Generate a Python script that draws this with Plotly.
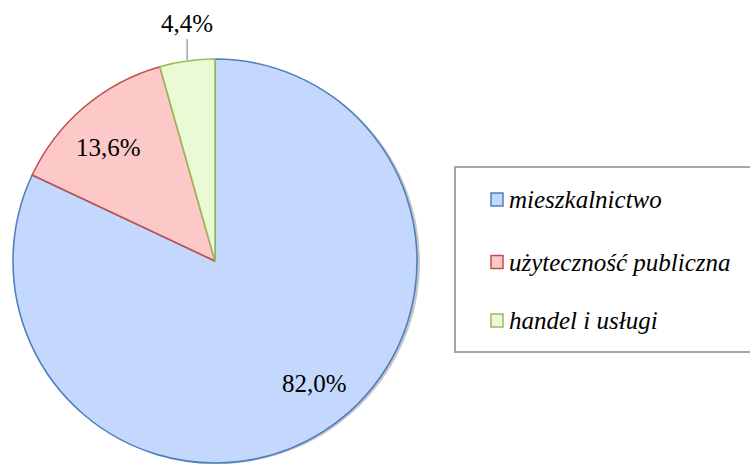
import math
import plotly.graph_objects as go

categories = ["mieszkalnictwo", "użyteczność publiczna", "handel i usługi"]
shares = [82.0, 13.6, 4.4]
label_texts = ["82,0%", "13,6%", "4,4%"]
fill_colors = ["#c3d8fc", "#fcc8c8", "#eafad4"]
line_colors = ["#4f81bd", "#c0504d", "#9bbb59"]

W, H = 750, 464
cx, cy, R = 215, 261, 202  # pie center / radius in px

def dom(cx, cy, R):
    y0 = max(0.0, (H - (cy + R)) / H)
    return dict(x=[(cx - R) / W, (cx + R) / W], y=[y0, (H - (cy - R)) / H])

fig = go.Figure()

# soft drop shadow
fig.add_trace(go.Pie(
    values=[1], labels=["s"], sort=False, domain=dom(cx + 3, cy + 1, R),
    marker=dict(colors=["rgba(0,0,0,0.22)"], line=dict(width=0)),
    textinfo="none", hoverinfo="skip", showlegend=False,
))

fig.add_trace(go.Pie(
    labels=categories, values=shares, sort=False, direction="clockwise", rotation=0,
    domain=dom(cx, cy, R),
    marker=dict(colors=fill_colors, line=dict(color=line_colors, width=1.6)),
    textinfo="none", showlegend=False, hoverinfo="label+percent",
))

total = sum(shares)
font = dict(family="Liberation Serif", size=25, color="#000000")

def mid_angle(i):
    return (sum(shares[:i]) + shares[i] / 2) / total * 2 * math.pi

# inside labels along each slice's mid angle
nudges = [(16, 9), (-6, -5)]
for i in range(2):
    a = mid_angle(i)
    lx = cx + 0.77 * R * math.sin(a)
    ly = cy - 0.77 * R * math.cos(a)
    fig.add_annotation(x=lx / W, y=(H - ly) / H, xref="paper", yref="paper",
                       xanchor="center", yanchor="middle",
                       text=label_texts[i], showarrow=False,
                       xshift=nudges[i][0], yshift=nudges[i][1], font=font)

# outside label for the small slice with leader line
a = mid_angle(2)
px = cx + R * math.sin(a)
py = cy - R * math.cos(a)
fig.add_annotation(
    x=px / W, y=(H - py) / H, xref="paper", yref="paper",
    text=label_texts[2], showarrow=True, arrowhead=0, arrowwidth=1.5,
    arrowcolor="#a6a6a6", ax=0, ay=-37, standoff=1, font=font,
)

# legend (drawn box, swatches and italic labels)
lx0, ly0, lx1, ly1 = 455, 167, 762, 352
fig.add_shape(type="rect", xref="paper", yref="paper",
              x0=lx0 / W, x1=lx1 / W, y0=(H - ly1) / H, y1=(H - ly0) / H,
              line=dict(color="#a6a6a6", width=2), fillcolor="rgba(0,0,0,0)")
item_y = [199.5, 262, 320.5]
for cat, fc, lc, yy in zip(categories, fill_colors, line_colors, item_y):
    fig.add_shape(type="rect", xref="paper", yref="paper",
                  x0=491 / W, x1=503 / W, y0=(H - yy - 6.5) / H, y1=(H - yy + 6.5) / H,
                  line=dict(color=lc, width=1.5), fillcolor=fc)
    fig.add_annotation(x=507 / W, y=(H - yy) / H, xref="paper", yref="paper",
                       text=f"<i>{cat}</i>", showarrow=False, xanchor="left", yanchor="middle",
                       font=font)

fig.update_layout(
    width=W, height=H, margin=dict(l=0, r=0, t=0, b=0),
    paper_bgcolor="#ffffff", plot_bgcolor="#ffffff", showlegend=False,
)
fig.write_html("out.html", config={"displayModeBar": False},
               post_script="document.body.style.margin='0';")
